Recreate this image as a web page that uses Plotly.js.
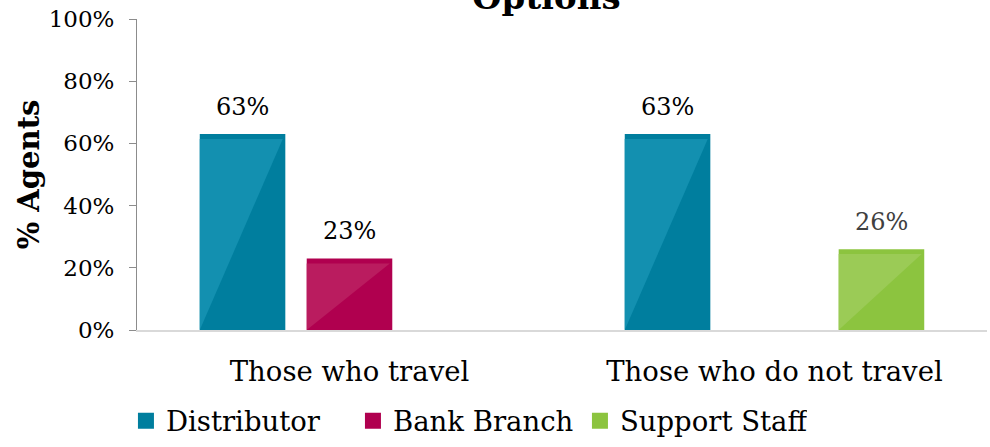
<!DOCTYPE html>
<html><head><meta charset="utf-8">
<script src="https://cdn.plot.ly/plotly-3.0.1.min.js"></script>
<style>html,body{margin:0;padding:0;background:#fff}</style>
</head><body>
<div id="chart" style="width:990px;height:447px"></div>
<script>
const categories = ["Those who travel", "Those who do not travel"];
const seriesNames = ["Distributor", "Bank Branch", "Support Staff"];
const distributor = [63, 63];
const bankBranch = [23, null];
const supportStaff = [null, 26];
const yTicks = [0, 20, 40, 60, 80, 100];
const yTickLabels = ["0%", "20%", "40%", "60%", "80%", "100%"];

const values = [distributor, bankBranch, supportStaff];
const darkColors = ["#007e9e", "#b0004f", "#8cc43f"];
const lightColors = ["#1390b0", "#ba1c5f", "#9bcb56"];
const labelColors = ["#000000", "#000000", "#404040"];
const FONT = "DejaVu Serif, Georgia, serif";
const bargap = 0.245, bargroupgap = 0.2;
const slot = (1 - bargap) / seriesNames.length;
const bw = slot * (1 - bargroupgap);

const traces = seriesNames.map((name, k) => ({
  type: "bar", name: name, x: categories, y: values[k],
  marker: {color: darkColors[k]}, hoverinfo: "none", showlegend: false
}));
// legend entries (larger square swatches)
seriesNames.forEach((name, k) => {
  traces.push({
    type: "scatter", mode: "markers", name: name, x: [null], y: [null],
    marker: {symbol: "square", size: 17, color: darkColors[k], line: {width: 0}},
    hoverinfo: "none", showlegend: true
  });
});

const annotations = [];
const shapes = [];
values.forEach((vals, k) => {
  vals.forEach((v, i) => {
    if (v === null) return;
    const cx = i + (k - (seriesNames.length - 1) / 2) * slot;
    annotations.push({
      xref: "x", yref: "y", x: cx, y: v, text: v + "%", showarrow: false,
      yanchor: "bottom", yshift: 11,
      font: {family: FONT, size: 24, color: labelColors[k]}
    });
    const x0 = cx - bw / 2, x1 = cx + bw / 2, top = v - 1.6;
    shapes.push({
      type: "path", xref: "x", yref: "y",
      path: `M ${x0},${top} L ${x1 - bw*0.03},${top} L ${x0},0 Z`,
      fillcolor: lightColors[k], line: {width: 0}, layer: "above"
    });
  });
});
annotations.push({
  xref: "paper", yref: "paper", x: 0.482, y: 1.0, yanchor: "bottom", yshift: 0,
  text: "<b>Options</b>", showarrow: false,
  font: {family: FONT, size: 34, color: "#000"}
});

const layout = {
  width: 990, height: 447,
  margin: {l: 137, r: 3, t: 19, b: 116},
  paper_bgcolor: "#fff", plot_bgcolor: "#fff",
  barmode: "group", bargap: bargap, bargroupgap: bargroupgap,
  showlegend: true,
  legend: {orientation: "h", x: -0.013, xanchor: "left", y: -0.288, yanchor: "middle",
    font: {family: FONT, size: 27.5, color: "#000"}, traceorder: "normal",
    itemsizing: "trace", tracegroupgap: 0, entrywidth: 182, entrywidthmode: "pixels"},
  xaxis: {type: "category", showgrid: false, zeroline: false, showline: true,
    linecolor: "#d9d9d9", linewidth: 2, ticks: "", ticklabelstandoff: 16,
    tickfont: {family: FONT, size: 27.5, color: "#000"}, fixedrange: true},
  yaxis: {range: [0, 100], tickvals: yTicks, ticktext: yTickLabels, showgrid: false,
    zeroline: false, showline: true, linecolor: "#8c8c8c", linewidth: 1,
    ticks: "outside", ticklen: 7, tickcolor: "#8c8c8c", ticklabelstandoff: 10,
    tickfont: {family: FONT, size: 23, color: "#000"},
    title: {text: "<b>% Agents</b>", font: {family: FONT, size: 29, color: "#000"}, standoff: 0},
    fixedrange: true},
  annotations: annotations,
  shapes: shapes
};
Plotly.newPlot("chart", traces, layout, {displayModeBar: false, staticPlot: true});
</script>
</body></html>
